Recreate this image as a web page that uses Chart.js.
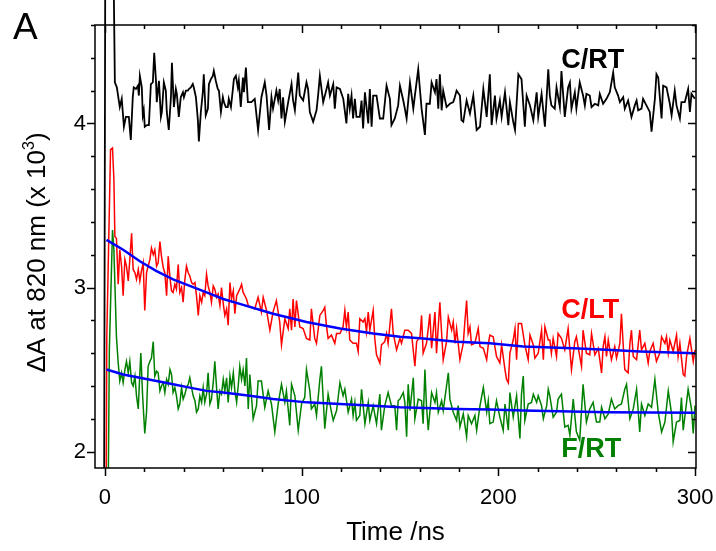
<!DOCTYPE html>
<html>
<head>
<meta charset="utf-8">
<script src="https://cdn.jsdelivr.net/npm/chart.js@4.4.1/dist/chart.umd.min.js"></script>
<style>
  body { margin: 0; background: #fff; }
  canvas { display: block; }
</style>
</head>
<body>
<canvas id="kinetics" width="716" height="551"></canvas>
<script>
// time (ns), ΔA at 820 nm (x 10^3)
const cRT = [[-0.5,1.0],[0.4,6.0],[3.4,6.0],[5.1,4.25],[6.1,4.22],[7.6,4.10],[8.6,4.15],[9.7,3.98],[10.7,4.04],[12.2,4.04],[13.2,3.90],[14.2,4.16],[14.7,4.22],[15.8,4.21],[16.8,4.23],[17.3,4.17],[17.8,4.29],[18.8,4.22],[19.3,4.05],[19.8,4.08],[20.3,3.98],[21.4,3.99],[22.4,3.99],[23.4,4.24],[24.4,4.25],[25.1,4.43],[26.0,4.26],[26.4,4.13],[27.5,4.26],[28.5,4.04],[29.0,4.07],[30.0,4.25],[31.0,4.20],[31.5,4.07],[32.5,3.96],[33.6,4.16],[34.1,4.37],[35.1,4.10],[36.1,4.21],[36.6,4.18],[37.6,4.04],[38.6,4.16],[39.7,4.19],[40.2,4.16],[41.2,4.20],[42.2,4.20],[42.7,4.21],[43.7,4.22],[44.7,4.24],[45.2,4.22],[46.3,4.16],[47.3,4.02],[47.8,3.89],[48.8,4.07],[49.8,4.19],[50.3,4.30],[51.3,4.05],[52.4,4.09],[52.9,4.24],[53.9,4.27],[54.9,4.29],[55.4,4.32],[56.4,4.26],[57.4,4.21],[58.0,4.20],[59.0,4.07],[60.0,4.16],[60.5,4.13],[61.5,4.10],[62.5,4.10],[63.0,4.15],[64.1,4.10],[65.1,4.21],[65.6,4.27],[66.6,4.29],[67.6,4.22],[68.1,4.26],[69.1,4.10],[70.2,4.28],[70.7,4.19],[71.7,4.34],[72.7,4.13],
  [74.5,4.13],[76.2,4.15],[77.9,3.96],[79.6,4.16],[81.3,4.25],[82.2,4.17],[83.5,3.96],[84.7,4.16],[85.5,4.09],[87.2,4.20],[88.1,4.14],[88.9,4.21],[89.8,4.03],[90.6,4.16],[91.5,4.01],[93.2,4.13],[94.9,4.24],[95.7,4.14],[96.6,4.08],[98.3,4.31],[99.1,4.17],[100.8,4.14],[102.5,4.25],[103.3,4.21],[104.2,4.07],[105.9,4.01],[107.6,4.08],[108.4,4.17],[109.3,4.29],[111.0,4.13],[112.7,4.21],[113.5,4.25],[114.4,4.17],[116.1,4.24],[116.9,4.09],[117.8,4.22],[119.5,4.21],[121.2,4.15],[122.8,4.00],[123.7,4.18],[124.5,4.09],[125.4,4.17],[126.2,4.03],[127.1,4.15],[127.9,4.04],[129.6,4.04],[130.5,4.14],[131.3,3.97],[132.2,4.19],[133.9,4.00],[134.7,4.21],[135.6,3.98],[136.4,4.17],[138.1,4.17],[139.8,4.03],[141.5,4.03],[143.2,4.23],[144.9,4.15],[145.7,3.99],[147.4,4.03],[149.1,4.11],
  [150.0,4.23],[151.7,4.14],[152.5,4.09],[153.4,4.03],[155.1,4.25],[156.8,4.09],[157.6,4.17],[159.3,4.33],[161.0,4.09],[162.7,3.93],[163.5,4.12],[165.2,4.12],[166.1,4.25],[167.8,4.19],[168.6,4.27],[169.5,4.09],[170.3,4.30],[171.2,4.08],[172.0,4.20],[173.7,4.10],[175.4,4.12],[177.1,4.13],[177.9,4.16],[178.8,4.20],[180.5,4.17],[181.3,4.02],[182.2,4.01],[183.9,4.14],[185.6,4.06],[187.3,4.17],[189.0,3.96],[190.7,3.98],[192.4,4.21],[194.1,4.04],[195.7,4.30],[196.6,3.99],[198.3,4.17],[199.1,4.03],[200.8,4.14],[201.7,4.04],[203.4,4.19],[205.1,3.99],[205.9,4.13],[207.6,4.01],[208.5,3.96],[210.2,4.30],[211.8,4.27],[213.5,3.98],[214.4,4.17],[216.1,4.11],[217.8,4.02],[219.5,4.19],[220.3,4.04],[222.0,4.18],[223.7,3.98],[225.4,4.33],
  [226.2,4.17],[227.0,4.11],[228.7,4.09],[229.6,4.22],[231.3,4.10],[232.1,4.32],[233.8,4.04],[235.5,4.22],[236.4,4.25],[237.2,4.09],[238.9,4.19],[239.7,4.09],[241.4,4.25],[243.1,4.17],[244.0,4.11],[244.8,4.18],[246.5,4.17],[247.4,4.10],[249.1,4.12],[250.8,4.11],[251.6,4.18],[253.3,4.12],[255.0,4.15],[256.7,4.19],[258.4,4.31],[259.2,4.22],[260.9,4.17],[261.8,4.13],[263.5,4.16],[264.3,4.09],[266.0,4.14],[267.7,4.04],[269.4,4.11],[270.3,4.14],[271.1,4.08],[272.8,4.09],[273.6,4.15],[275.3,4.11],[277.0,4.07],[277.9,3.95],[279.6,4.15],[280.4,4.30],[281.3,4.28],[283.0,4.03],[283.8,4.23],[285.5,4.22],[287.2,4.12],[288.1,4.05],[289.7,4.20],[290.6,4.11],[292.3,4.03],[293.1,4.13],[294.8,4.13],[296.5,4.21],[297.4,4.07],[298.2,4.18],[299.9,4.15]];

const cLT = [[0.4,1.0],[1.0,2.7],[2.9,3.84],[3.9,3.85],[4.6,3.66],[5.1,3.31],[5.9,3.30],[6.8,3.02],[7.6,3.23],[8.5,3.13],[9.3,2.95],[10.2,3.17],[11.0,3.13],[11.9,3.04],[12.7,3.17],[13.6,3.33],[14.4,3.11],[15.3,3.09],[16.1,3.05],[17.0,3.11],[17.8,3.04],[18.6,3.10],[19.5,3.15],[20.3,2.86],[21.2,3.09],[22.0,3.13],[22.9,3.17],[23.7,3.24],[24.6,3.20],[25.4,3.23],[26.3,3.13],[27.1,3.15],[28.0,3.28],[28.8,3.19],[29.7,3.12],[30.5,3.09],[31.4,2.95],[32.2,3.19],[33.1,3.06],[33.9,2.98],[34.7,2.97],[35.6,3.02],[36.4,2.99],[37.3,3.14],[38.1,2.97],[39.0,3.00],[39.8,2.91],[40.7,3.05],[41.5,3.13],[42.4,3.09],[43.2,3.07],[44.1,3.03],[44.9,3.02],[45.8,3.03],[46.6,2.95],[47.5,2.83],[48.3,2.95],[49.2,2.91],[50.0,2.97],[50.8,2.95],[51.7,3.08],[52.5,3.01],[53.4,2.97],[54.2,2.91],[55.1,3.01],[55.9,2.99],[56.8,2.94],[57.6,2.96],[58.5,2.89],[59.3,3.00],[60.2,2.90],[61.0,2.83],[61.9,2.87],[62.7,2.77],[63.6,3.03],[64.4,2.93],[65.3,2.98],[66.1,2.84],[67.0,2.95],[67.8,2.97],[68.6,2.99],[69.5,3.02],[70.3,2.97],[71.2,2.95],[72.0,2.93],[72.9,2.89],
  [74.5,2.88],[76.2,2.87],[77.9,2.94],[79.6,2.85],[80.5,2.94],[82.2,2.86],[83.9,2.74],[85.5,2.85],[87.2,2.92],[88.9,2.79],[89.8,2.65],[91.5,2.81],[93.2,2.75],[94.0,2.87],[94.9,2.74],[95.7,2.93],[96.6,2.76],[97.4,2.92],[99.1,2.76],[100.8,2.75],[102.5,2.69],[104.2,2.68],[105.0,2.87],[106.7,2.69],[107.6,2.66],[109.3,2.83],[111.0,2.86],[111.8,2.88],[112.7,2.76],[113.5,2.69],[115.2,2.71],[116.9,2.66],[117.8,2.72],[119.5,2.72],[121.1,2.76],[122.0,2.86],[122.8,2.76],[123.7,2.85],[124.5,2.68],[126.2,2.66],[127.9,2.66],[128.8,2.61],[129.6,2.81],[131.3,2.79],[132.2,2.81],[133.0,2.73],[133.9,2.85],[134.7,2.74],[136.4,2.86],[137.2,2.69],[138.1,2.59],[139.8,2.54],[140.6,2.65],[142.3,2.67],[143.2,2.72],[144.0,2.66],[145.7,2.87],[146.6,2.72],[148.3,2.62],[150.0,2.69],
  [150.8,2.66],[152.5,2.74],[154.2,2.74],[155.9,2.72],[157.6,2.52],[158.5,2.67],[160.2,2.70],[161.0,2.83],[161.8,2.60],[163.5,2.66],[164.4,2.75],[165.2,2.84],[166.1,2.63],[167.8,2.85],[168.6,2.60],[170.3,2.91],[171.2,2.72],[172.0,2.56],[173.7,2.67],[174.6,2.82],[176.3,2.74],[177.1,2.79],[178.0,2.66],[178.8,2.75],[180.5,2.56],[182.2,2.66],[183.0,2.79],[183.9,2.92],[184.7,2.72],[185.6,2.76],[186.4,2.65],[188.1,2.66],[189.8,2.75],[190.7,2.64],[192.4,2.63],[194.1,2.56],[194.9,2.65],[195.7,2.71],[197.4,2.70],[199.1,2.58],[200.8,2.54],[201.7,2.65],[203.4,2.50],[204.2,2.44],[205.1,2.42],[205.9,2.60],[207.6,2.68],[208.5,2.75],[209.3,2.56],[210.2,2.78],[211.8,2.78],[213.5,2.65],[215.2,2.56],[216.1,2.71],[217.8,2.65],[218.6,2.57],[220.3,2.60],[222.0,2.74],[222.9,2.56],[223.7,2.76],[225.4,2.68],
  [226.2,2.68],[227.0,2.60],[227.9,2.69],[229.6,2.58],[230.4,2.72],[232.1,2.69],[233.8,2.62],[235.5,2.75],[237.2,2.50],[238.9,2.67],[239.7,2.70],[241.4,2.58],[242.3,2.52],[243.1,2.74],[244.8,2.60],[246.5,2.59],[247.4,2.72],[249.1,2.59],[250.8,2.63],[252.5,2.48],[253.3,2.64],[254.2,2.70],[255.0,2.58],[255.9,2.68],[257.5,2.56],[259.2,2.64],[260.1,2.57],[261.8,2.66],[262.6,2.84],[263.5,2.65],[264.3,2.50],[266.0,2.48],[266.9,2.66],[267.7,2.74],[268.6,2.58],[270.3,2.56],[271.9,2.74],[272.8,2.62],[274.5,2.66],[276.2,2.54],[277.0,2.61],[278.7,2.66],[280.4,2.55],[282.1,2.60],[283.0,2.70],[284.7,2.66],[285.5,2.70],[286.4,2.60],[287.2,2.68],[288.9,2.61],[290.6,2.71],[291.4,2.58],[292.3,2.66],[294.0,2.47],[294.8,2.46],[295.7,2.58],[297.4,2.69],[299.1,2.55],[300.0,2.62]];

const fRT = [[1.2,1.0],[2.3,2.62],[3.9,3.35],[4.6,3.23],[5.9,2.70],[6.8,2.54],[7.6,2.43],[8.5,2.48],[9.3,2.42],[10.2,2.50],[11.0,2.55],[11.9,2.48],[12.7,2.55],[13.6,2.42],[14.4,2.40],[15.3,2.46],[16.1,2.34],[17.0,2.26],[17.8,2.48],[18.3,2.60],[19.2,2.34],[20.3,2.11],[21.2,2.24],[22.0,2.52],[22.9,2.55],[23.7,2.57],[24.6,2.67],[25.4,2.46],[26.3,2.49],[27.1,2.48],[28.0,2.37],[28.8,2.40],[29.7,2.42],[30.5,2.36],[31.4,2.44],[32.2,2.41],[33.1,2.50],[33.9,2.47],[34.7,2.36],[35.6,2.39],[36.4,2.34],[37.3,2.26],[38.1,2.29],[39.0,2.39],[39.8,2.32],[40.7,2.35],[41.5,2.39],[42.4,2.41],[43.2,2.45],[44.1,2.39],[44.9,2.34],[45.8,2.31],[46.6,2.24],[47.5,2.26],[48.3,2.34],[49.2,2.30],[50.0,2.39],[50.8,2.30],[51.7,2.35],[52.5,2.48],[53.4,2.29],[54.2,2.32],[55.1,2.42],[55.9,2.55],[56.8,2.39],[57.6,2.26],[58.5,2.37],[59.3,2.35],[60.2,2.44],[61.0,2.37],[61.9,2.45],[62.7,2.30],[63.6,2.46],[64.4,2.39],[65.3,2.48],[66.1,2.37],[67.0,2.30],[67.8,2.40],[68.6,2.52],[69.5,2.44],[70.3,2.50],[71.2,2.40],[72.0,2.57],[72.9,2.26],
  [73.7,2.47],[75.4,2.20],[77.1,2.28],[77.9,2.43],[79.6,2.43],[81.3,2.27],[83.0,2.37],[84.7,2.29],[86.4,2.12],[88.1,2.29],[89.8,2.41],[91.5,2.30],[92.3,2.37],[94.0,2.16],[94.9,2.41],[96.6,2.34],[98.3,2.13],[100.0,2.29],[101.6,2.33],[102.5,2.50],[104.2,2.37],[105.0,2.26],[106.7,2.29],[107.6,2.22],[109.3,2.44],[110.1,2.52],[111.8,2.14],[113.5,2.35],[115.2,2.24],[116.1,2.19],[117.8,2.25],[119.5,2.42],[121.1,2.34],[122.0,2.38],[123.7,2.24],[125.4,2.32],[126.2,2.22],[127.1,2.30],[127.9,2.19],[129.6,2.22],[130.5,2.38],[132.2,2.17],[133.9,2.30],[134.7,2.19],[136.4,2.28],[138.1,2.17],[139.8,2.35],[140.6,2.13],[142.3,2.28],[144.0,2.36],[145.7,2.28],[147.4,2.28],[148.3,2.13],[149.1,2.31],
  [150.0,2.32],[151.7,2.36],[152.5,2.30],[153.4,2.09],[154.2,2.41],[155.1,2.25],[156.8,2.45],[157.6,2.20],[159.3,2.32],[161.0,2.31],[161.8,2.17],[162.7,2.50],[163.5,2.28],[164.4,2.13],[166.1,2.36],[167.8,2.30],[168.6,2.36],[169.5,2.24],[171.2,2.31],[172.0,2.25],[173.7,2.40],[174.6,2.48],[175.4,2.32],[177.1,2.24],[178.8,2.19],[179.6,2.28],[180.5,2.15],[182.2,2.23],[183.9,2.09],[184.7,2.22],[186.4,2.17],[188.1,2.22],[189.0,2.13],[190.7,2.28],[192.4,2.39],[194.1,2.24],[194.9,2.31],[195.7,2.17],[197.4,2.18],[199.1,2.31],[200.8,2.21],[202.5,2.13],[203.4,2.29],[205.1,2.13],[205.9,2.36],[207.6,2.21],[209.3,2.34],[211.0,2.08],[211.8,2.35],[212.7,2.46],[213.5,2.19],[215.2,2.29],[216.9,2.30],[217.8,2.35],[219.5,2.30],[220.3,2.34],[222.0,2.28],[222.9,2.20],[224.6,2.28],[225.4,2.38],
  [226.2,2.34],[227.9,2.21],[229.6,2.24],[230.4,2.32],[232.1,2.35],[233.8,2.15],[235.5,2.16],[236.4,2.10],[238.1,2.32],[239.7,2.12],[241.4,2.07],[243.1,2.41],[244.8,2.18],[246.5,2.26],[248.2,2.30],[249.9,2.18],[251.6,2.18],[252.5,2.27],[254.2,2.20],[255.9,2.23],[257.5,2.32],[259.2,2.26],[260.9,2.28],[262.6,2.29],[264.3,2.38],[265.2,2.41],[266.9,2.20],[268.6,2.26],[270.3,2.38],[271.9,2.12],[272.8,2.29],[274.5,2.22],[276.2,2.29],[277.9,2.27],[279.6,2.44],[281.3,2.24],[283.0,2.12],[284.7,2.18],[286.4,2.37],[288.1,2.23],[288.9,2.06],[290.6,2.18],[292.3,2.19],[293.1,2.33],[294.0,2.13],[295.7,2.30],[296.5,2.38],[298.2,2.26],[299.1,2.11],[300.0,2.28]];

// fitted decays (blue), read at intervals along the curves
const fitLT = [[0.85,3.29],[9.3,3.23],[17.8,3.16],[26.3,3.10],[34.7,3.05],[43.2,3.01],[51.7,2.97],[60.2,2.93],[68.6,2.90],[85.5,2.84],[102.5,2.79],[119.5,2.75],[136.4,2.72],[150.0,2.70],[161.8,2.69],[178.8,2.67],[195.7,2.66],[212.7,2.64],[238.0,2.63],[255.0,2.62],[272.0,2.61],[300.0,2.60]];
const fitRT = [[0.85,2.50],[9.3,2.47],[17.8,2.45],[26.3,2.43],[34.7,2.41],[43.2,2.39],[51.7,2.37],[60.2,2.36],[73.7,2.34],[85.5,2.32],[102.5,2.30],[119.5,2.29],[136.4,2.28],[150.0,2.27],[178.8,2.26],[195.7,2.256],[212.7,2.25],[255.0,2.24],[300.0,2.236]];

const xMajor = [0, 100, 200, 300];
const yMajor = [2, 3, 4];

const FONT = '"Liberation Sans", Arial, sans-serif';
const toXY = arr => arr.map(p => ({ x: p[0], y: p[1] }));
const clipTop = { left: 0, top: false, right: 0, bottom: 0 };

function trace(label, arr, color, width, order) {
  return {
    label: label, data: toXY(arr), borderColor: color, borderWidth: width,
    pointRadius: 0, tension: 0, clip: clipTop, order: order
  };
}

const frameAndText = {
  id: 'frameAndText',
  afterDatasetsDraw(chart) {
    const ctx = chart.ctx;
    const a = chart.chartArea;
    const xs = chart.scales.x, ys = chart.scales.y;
    ctx.save();
    ctx.strokeStyle = '#000';
    ctx.lineWidth = 1.5;
    ctx.strokeRect(a.left, a.top, a.right - a.left, a.bottom - a.top);

    ctx.beginPath();
    for (let t = 0; t <= 300; t += 20) {
      const px = Math.round(xs.getPixelForValue(t)) + 0.5;
      const major = t % 100 === 0;
      ctx.moveTo(px, a.bottom); ctx.lineTo(px, a.bottom + (major ? 8 : 4));
      ctx.moveTo(px, a.top); ctx.lineTo(px, a.top + (major ? 8 : 4));
    }
    for (let k = 0; k <= 13; k++) {
      const v = 2 + k * 0.2;
      const py = Math.round(ys.getPixelForValue(v)) + 0.5;
      const major = k % 5 === 0;
      ctx.moveTo(a.left, py); ctx.lineTo(a.left - (major ? 8 : 4), py);
      ctx.moveTo(a.right, py); ctx.lineTo(a.right - (major ? 8 : 4), py);
    }
    ctx.stroke();

    ctx.fillStyle = '#000';
    ctx.font = '37px ' + FONT;
    ctx.textBaseline = 'alphabetic';
    ctx.textAlign = 'left';
    ctx.fillText('A', 13, 39);

    ctx.font = 'bold 27px ' + FONT;
    const lx = xs.getPixelForValue(232);
    ctx.fillStyle = '#000'; ctx.fillText('C/RT', lx, 68);
    ctx.fillStyle = '#ff0000'; ctx.fillText('C/LT', lx, 318);
    ctx.fillStyle = '#008000'; ctx.fillText('F/RT', lx, 457);

    ctx.fillStyle = '#000';
    ctx.font = '26px ' + FONT;
    ctx.textAlign = 'center';
    ctx.fillText('Time /ns', (a.left + a.right) / 2, 540);

    // y title with superscript
    const main = 'ΔA at 820 nm (x 10';
    ctx.font = '26px ' + FONT;
    const w1 = ctx.measureText(main).width;
    ctx.font = '16px ' + FONT;
    const w2 = ctx.measureText('3').width;
    ctx.font = '26px ' + FONT;
    const w3 = ctx.measureText(')').width;
    const total = w1 + w2 + w3;
    ctx.translate(45, (a.top + a.bottom) / 2 + 6);
    ctx.rotate(-Math.PI / 2);
    ctx.textAlign = 'left';
    const x0 = -total / 2;
    ctx.fillText(main, x0, 0);
    ctx.font = '16px ' + FONT;
    ctx.fillText('3', x0 + w1, -11);
    ctx.font = '26px ' + FONT;
    ctx.fillText(')', x0 + w1 + w2, 0);
    ctx.restore();
  }
};

new Chart(document.getElementById('kinetics'), {
  type: 'line',
  data: {
    datasets: [
      trace('fit C/LT', fitLT, '#0000ff', 2.5, 0),
      trace('fit F/RT', fitRT, '#0000ff', 2.5, 0),
      trace('C/RT', cRT, '#000000', 1.8, 1),
      trace('C/LT', cLT, '#ff0000', 1.5, 2),
      trace('F/RT', fRT, '#008000', 1.5, 3)
    ]
  },
  options: {
    responsive: false,
    animation: false,
    devicePixelRatio: 1,
    layout: { padding: { left: 0, top: 25, right: 20, bottom: 0 } },
    plugins: { legend: { display: false }, tooltip: { enabled: false } },
    scales: {
      x: {
        type: 'linear', min: -5, max: 300.5,
        afterBuildTicks: s => { s.ticks = xMajor.map(v => ({ value: v })); },
        afterFit: s => { s.height = 83; s.paddingLeft = 0; s.paddingRight = 0; },
        grid: { display: false, drawTicks: false },
        border: { display: false },
        ticks: { color: '#000', font: { family: FONT, size: 22 }, padding: 17, maxRotation: 0 }
      },
      y: {
        type: 'linear', min: 1.9, max: 4.6,
        afterBuildTicks: s => { s.ticks = yMajor.map(v => ({ value: v })); },
        afterFit: s => { s.width = 95; s.paddingTop = 0; s.paddingBottom = 0; },
        grid: { display: false, drawTicks: false },
        border: { display: false },
        ticks: { color: '#000', font: { family: FONT, size: 22 }, padding: 9 }
      }
    }
  },
  plugins: [frameAndText]
});
</script>
</body>
</html>
